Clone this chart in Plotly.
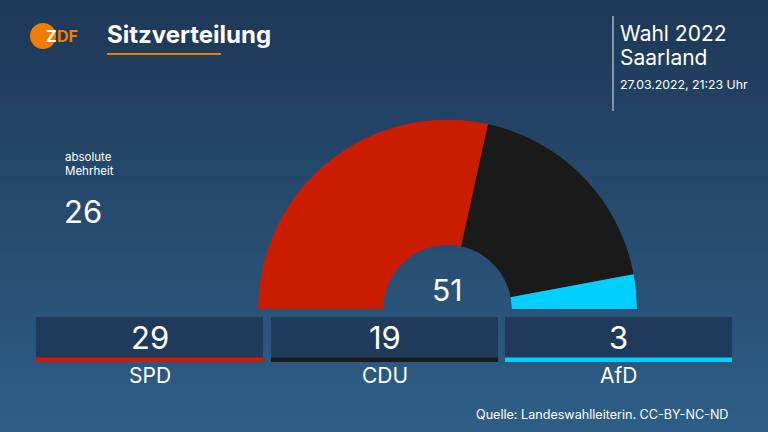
import plotly.graph_objects as go

parties = ["SPD", "CDU", "AfD"]
seats = [29, 19, 3]
colors = ["#cc1c00", "#1a1a1a", "#00cfff"]
majority = 26
title = "Sitzverteilung"
election = "Wahl 2022"
region = "Saarland"
timestamp = "27.03.2022, 21:23 Uhr"
source = "Quelle: Landeswahlleiterin. CC-BY-NC-ND"

W, H = 768, 432
FONT = "Inter, Roboto, sans-serif"
total = sum(seats)

# angular positions from the data
thetas, widths = [], []
acc = 0
for s in seats:
    w = 180.0 * s / total
    thetas.append(acc + w / 2)
    widths.append(w)
    acc += w

fig = go.Figure()
fig.add_trace(go.Barpolar(
    r=[1] * len(seats), theta=thetas, width=widths,
    marker=dict(color=colors, line=dict(width=0)),
    text=parties, hovertemplate="%{text}<extra></extra>", showlegend=False,
))

shapes = []
# background gradient
top = (0x1e, 0x38, 0x58)
bot = (0x2e, 0x5e, 0x86)
N = 48
for i in range(N):
    t = i / (N - 1)
    c = tuple(round(top[k] + (bot[k] - top[k]) * t) for k in range(3))
    shapes.append(dict(type="rect", xref="x", yref="y", x0=0, x1=W,
                       y0=H * i / N, y1=H * (i + 1) / N + 1,
                       fillcolor="rgb(%d,%d,%d)" % c, line=dict(width=0), layer="below"))

annotations = []
# boxes
box_x0 = [36, 271, 505]
box_w = 227
for i, (p, s, c) in enumerate(zip(parties, seats, colors)):
    x0 = box_x0[i]
    shapes.append(dict(type="rect", xref="x", yref="y", x0=x0, x1=x0 + box_w, y0=317, y1=358,
                       fillcolor="#1f3a5a", line=dict(width=0), layer="below"))
    shapes.append(dict(type="rect", xref="x", yref="y", x0=x0, x1=x0 + box_w, y0=357.5, y1=362,
                       fillcolor=c, line=dict(width=0), layer="below"))
    annotations.append(dict(x=x0 + box_w / 2, y=337, xref="x", yref="y", text=str(s),
                            showarrow=False, font=dict(family=FONT, size=31, color="white")))
    annotations.append(dict(x=x0 + box_w / 2, y=375, xref="x", yref="y", text=p,
                            showarrow=False, font=dict(family=FONT, size=21, color="white")))

# logo
shapes.append(dict(type="circle", xref="x", yref="y", x0=30, x1=56, y0=23, y1=49,
                   fillcolor="#f07d00", line=dict(width=0)))
annotations.append(dict(x=44, y=36, xref="x", yref="y", text="<b>Z</b>", xanchor="left",
                        showarrow=False, font=dict(family=FONT, size=16, color="white")))
annotations.append(dict(x=55, y=36, xref="x", yref="y", text="<b>DF</b>", xanchor="left",
                        showarrow=False, font=dict(family=FONT, size=16, color="#f07d00")))

# title
annotations.append(dict(x=105, y=34, xref="x", yref="y", text="<b>" + title + "</b>", xanchor="left",
                        showarrow=False, font=dict(family=FONT, size=24, color="white")))
shapes.append(dict(type="rect", xref="x", yref="y", x0=107, x1=221, y0=53, y1=55,
                   fillcolor="#f07d00", line=dict(width=0)))

# top right
shapes.append(dict(type="rect", xref="x", yref="y", x0=612, x1=614, y0=16, y1=111,
                   fillcolor="#8696aa", line=dict(width=0)))
annotations.append(dict(x=618, y=33, xref="x", yref="y", text=election, xanchor="left",
                        showarrow=False, font=dict(family=FONT, size=21, color="white")))
annotations.append(dict(x=618, y=57, xref="x", yref="y", text=region, xanchor="left",
                        showarrow=False, font=dict(family=FONT, size=21, color="white")))
annotations.append(dict(x=618, y=84, xref="x", yref="y", text=timestamp, xanchor="left",
                        showarrow=False, font=dict(family=FONT, size=12.3, color="white")))

# majority
annotations.append(dict(x=63, y=157, xref="x", yref="y", text="absolute", xanchor="left",
                        showarrow=False, font=dict(family=FONT, size=11.5, color="white")))
annotations.append(dict(x=63, y=171, xref="x", yref="y", text="Mehrheit", xanchor="left",
                        showarrow=False, font=dict(family=FONT, size=11.5, color="white")))
annotations.append(dict(x=62, y=211, xref="x", yref="y", text=str(majority), xanchor="left",
                        showarrow=False, font=dict(family=FONT, size=31, color="white")))

# total
annotations.append(dict(x=447, y=290, xref="x", yref="y", text=str(total),
                        showarrow=False, font=dict(family=FONT, size=30, color="white")))

# source
annotations.append(dict(x=730, y=414, xref="x", yref="y", text=source, xanchor="right",
                        showarrow=False, font=dict(family=FONT, size=12.6, color="white")))

cx, cy, R = 447.5, 309, 189.5
fig.update_layout(
    width=W, height=H, margin=dict(l=0, r=0, t=0, b=0),
    paper_bgcolor="#26496c", plot_bgcolor="rgba(0,0,0,0)",
    xaxis=dict(range=[0, W], visible=False, domain=[0, 1], fixedrange=True),
    yaxis=dict(range=[H, 0], visible=False, domain=[0, 1], fixedrange=True),
    polar=dict(
        domain=dict(x=[(cx - R) / W, (cx + R) / W], y=[(H - cy) / H, (H - cy + R) / H]),
        sector=[0, 180], hole=64 / 189.5, bgcolor="rgba(0,0,0,0)",
        radialaxis=dict(range=[0, 1], visible=False),
        angularaxis=dict(visible=False, direction="clockwise", rotation=180,
                         showgrid=False, showline=False, ticks=""),
    ),
    shapes=shapes, annotations=annotations, showlegend=False,
)
fig.write_html("out.html")
